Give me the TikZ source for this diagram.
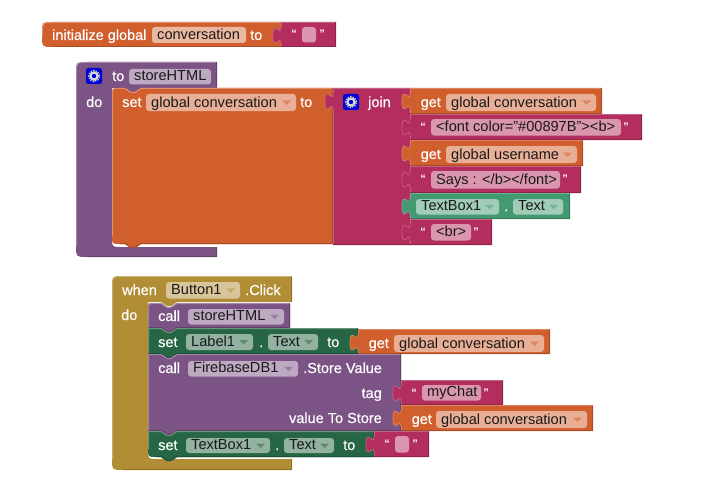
\documentclass[tikz,border=0pt]{standalone}
\usepackage{fontspec}
\setmainfont{Liberation Sans}
\newfontfamily\labfont[FakeBold=0.4]{Liberation Sans}
\definecolor{cOr}{HTML}{D05F2D}
\definecolor{cCr}{HTML}{B32D5E}
\definecolor{cPu}{HTML}{7C5385}
\definecolor{cDg}{HTML}{266644}
\definecolor{cLg}{HTML}{439970}
\definecolor{cGo}{HTML}{B18E35}
\newcounter{nn}
\tikzset{
  lighte/.style={line width=1pt,line join=round},
  darke/.style={line width=1pt,line join=round},
  lab/.style={text=white,anchor=base west,inner sep=0pt,font=\labfont\fontsize{14.5}{16}\selectfont},
  labr/.style={lab,anchor=base east},
  ftext/.style={text=black!90,anchor=base west,inner sep=0pt,font=\fontsize{14.6}{16}\selectfont},
  quot/.style={text=white,anchor=base,inner sep=0pt,font=\fontsize{11}{13}\bfseries\selectfont}
}
% statement block: col x1 y1 x2 y2 rtop rbot
\newcommand{\stmtblk}[7]{%
  \fill[#1] ({#2},{#3+#6}) .. controls ({#2},{#3}) .. ({#2+#6},{#3}) -- ({#2+13},{#3}) -- ({#2+19},{#3+4}) -- ({#2+23},{#3+4}) -- ({#2+29},{#3}) -- ({#4},{#3}) -- ({#4},{#5}) -- ({#2+29},{#5}) -- ({#2+23},{#5+4}) -- ({#2+19},{#5+4}) -- ({#2+13},{#5}) -- ({#2+#7},{#5}) .. controls ({#2},{#5}) .. ({#2},{#5-#7}) -- cycle;
  \draw[lighte,#1!70!white] ({#2+.5},{#5-#7}) -- ({#2+.5},{#3+#6}) .. controls ({#2+.5},{#3+.5}) .. ({#2+#6},{#3+.5}) -- ({#2+13},{#3+.5}) -- ({#2+19},{#3+4.5}) -- ({#2+23},{#3+4.5}) -- ({#2+29},{#3+.5}) -- ({#4-.5},{#3+.5});
  \draw[darke,#1!80!black] ({#4-.5},{#3+.5}) -- ({#4-.5},{#5-.5}) -- ({#2+29},{#5-.5}) -- ({#2+23},{#5+3.5}) -- ({#2+19},{#5+3.5}) -- ({#2+13},{#5-.5}) -- ({#2+#7},{#5-.5});
}
% value block: col x1 y1 x2 y2
\newcommand{\valblk}[5]{%
  \fill[#1] ({#2},{#3}) -- ({#4},{#3}) -- ({#4},{#5}) -- ({#2},{#5}) -- ({#2},{#3+22}) .. controls ({#2},{#3+10.7}) and ({#2-8},{#3+31}) .. ({#2-8},{#3+13.5}) .. controls ({#2-8},{#3-4}) and ({#2},{#3+16.3}) .. ({#2},{#3+5}) -- cycle;
  \draw[lighte,line width=.7pt,#1!75!white] ({#2+.5},{#5}) -- ({#2+.5},{#3+22}) ({#2},{#3+22}) .. controls ({#2},{#3+10.7}) and ({#2-8},{#3+31}) .. ({#2-8},{#3+13.5}) .. controls ({#2-8},{#3-4}) and ({#2},{#3+16.3}) .. ({#2},{#3+5}) ({#2+.5},{#3+5}) -- ({#2+.5},{#3+.5}) -- ({#4-.5},{#3+.5});
  \draw[darke,#1!80!black] ({#4-.5},{#3+.5}) -- ({#4-.5},{#5-.5}) -- ({#2},{#5-.5});
}
% C-shaped container: col x1 y1 x2 hdrbottom innerx bartop y2
\newcommand{\cblk}[8]{%
  \fill[#1] ({#2+11},{#3}) -- ({#4},{#3}) -- ({#4},{#5}) -- ({#6+29},{#5}) -- ({#6+23},{#5+4}) -- ({#6+19},{#5+4}) -- ({#6+13},{#5}) -- ({#6},{#5}) -- ({#6},{#7-9}) .. controls ({#6},{#7}) .. ({#6+9},{#7}) -- ({#4},{#7}) -- ({#4},{#8}) -- ({#2+11},{#8}) .. controls ({#2},{#8}) .. ({#2},{#8-11}) -- ({#2},{#3+11}) .. controls ({#2},{#3}) .. ({#2+11},{#3}) -- cycle;
  \draw[lighte,#1!70!white] ({#2+.5},{#8-11}) -- ({#2+.5},{#3+11}) .. controls ({#2+.5},{#3+.5}) .. ({#2+11},{#3+.5}) -- ({#4-.5},{#3+.5});
  \draw[darke,#1!80!black] ({#4-.5},{#3+.5}) -- ({#4-.5},{#5-.5});
  \draw[darke,#1!80!black] ({#4-.5},{#7}) -- ({#4-.5},{#8-.5}) -- ({#2+11},{#8-.5});
}
\newcommand{\lbl}[3]{\stepcounter{nn}\node[lab] (n\thenn) at (#1,#2) {#3};}
\newcommand{\lblr}[3]{\stepcounter{nn}\node[labr] (n\thenn) at (#1,#2) {#3};}
% plain field: col x1 y1 x2 y2 text
\newcommand{\plainf}[6]{%
  \fill[#1!50!white,rounded corners=3pt] (#2,#3) rectangle (#4,#5);
  \stepcounter{nn}\node[ftext] (n\thenn) at ({#2+5},{#5-4}) {#6};}
% dropdown field
\newcommand{\dropf}[6]{\plainf{#1}{#2}{#3}{#4}{#5}{#6}%
  \fill[#1!75!white] ({#4-14},{(#3+#5)/2-2}) -- ({#4-5},{(#3+#5)/2-2}) -- ({#4-9.5},{(#3+#5)/2+2.5}) -- cycle;}
% string: x1 y1 x2 y2 fieldx1 fieldx2 closeq text
\newcommand{\strv}[8]{\valblk{cCr}{#1}{#2}{#3}{#4}%
  \stepcounter{nn}\node[quot] (n\thenn) at ({#5-8},{#2+16}) {“};%
  \stepcounter{nn}\node[quot] (n\thenn) at ({#7+2},{#2+16}) {”};%
  \plainf{cCr}{#5}{#2+5}{#6}{#4-4.5}{#8}}
\newcommand{\gearicon}[2]{%
  \fill[blue!85!black,rounded corners=2.5pt] (#1,#2) rectangle ({#1+16},{#2+16});
  \draw[black!25,line width=2pt,dash pattern=on 1.4pt off 1.1pt] ({#1+8},{#2+8}) circle (5.2pt);
  \fill[white!85!black] ({#1+8},{#2+8}) circle (4.6pt);
  \fill[blue!85!black] ({#1+8},{#2+8}) circle (2.2pt);}
% get block: x1 y1 x2 y2 fieldx1 fieldx2 text
\newcommand{\getv}[7]{\valblk{cOr}{#1}{#2}{#3}{#4}%
  \lbl{#1+10.5}{#2+19}{get}%
  \dropf{cOr}{#5}{#2+6}{#6}{#2+23}{#7}}
\begin{document}
\begin{tikzpicture}[x=1pt,y=-1pt]
\useasboundingbox (0,0) rectangle (702,495);
% ---- initialize
\fill[cOr] (53,22) -- (281,22) -- (281,47) -- (53,47) .. controls (42,47) .. (42,36) -- (42,33) .. controls (42,22) .. (53,22) -- cycle;
\draw[lighte,cOr!70!white] (42.5,36) -- (42.5,33) .. controls (42.5,22.5) .. (53,22.5) -- (281,22.5);
\draw[darke,cOr!80!black] (53,46.5) -- (281,46.5);
\lbl{52}{40}{initialize global}
\fill[cOr!45!white,rounded corners=3pt] (152,27) rectangle (246,43);
\stepcounter{nn}\node[ftext] (n\thenn) at (157,40) {conversation};
\lbl{250}{40}{to}
\strv{281}{22}{336}{47}{302}{316}{320}{}
% ---- procedure
\cblk{cPu}{76}{62}{217}{88}{112}{247}{257}
\gearicon{86}{68}
\lbl{112}{81}{to}
\plainf{cPu}{129}{69}{211}{84.5}{storeHTML}
\lbl{86}{107}{do}
\stmtblk{cOr}{112}{88}{333}{244}{7}{8}
\lbl{122}{107}{set}
\dropf{cOr}{146}{94}{296}{111}{global conversation}
\lbl{300}{107}{to}
% join
\valblk{cCr}{333}{88}{411}{245}
\gearicon{343}{94}
\lbl{368}{107}{join}
\getv{410}{88}{602}{114}{446}{596}{global conversation}
\strv{410}{114}{642}{140}{431}{621}{624}{<font color="\#00897B"><b>}
\getv{410}{140}{583}{166}{446}{577}{global username}
\strv{410}{166}{581}{193}{431}{560}{563}{Says : </b></font>}
\valblk{cLg}{410}{193}{570}{219}
\dropf{cLg}{416}{199}{499}{214.5}{TextBox1}
\lbl{504}{211}{.}
\dropf{cLg}{513}{199}{563}{214.5}{Text}
\strv{410}{219}{492}{245}{431}{471}{474}{<br>}
% ---- when
\cblk{cGo}{112}{276}{292}{302}{148}{459}{470}
\lbl{122}{295}{when}
\dropf{cGo}{166}{282}{240}{298.5}{Button1}
\lbl{245}{295}{.Click}
\lbl{121}{320}{do}
\stmtblk{cPu}{148}{303}{290}{328}{6}{0}
\lbl{158}{321}{call}
\dropf{cPu}{188}{309}{284}{324.5}{storeHTML}
\stmtblk{cDg}{148}{328}{358}{354}{0}{0}
\lbl{158}{347}{set}
\dropf{cDg}{186}{334}{253}{350}{Label1}
\lbl{259}{347}{.}
\dropf{cDg}{268}{334}{318}{350}{Text}
\lbl{327}{347}{to}
\getv{358}{329}{550}{354}{394}{544}{global conversation}
\stmtblk{cPu}{148}{354}{401}{431}{0}{0}
\lbl{158}{373}{call}
\dropf{cPu}{188}{361}{298}{376.5}{FirebaseDB1}
\lbl{303}{373}{.Store Value}
\lblr{382}{398}{tag}
\lblr{382}{423}{value To Store}
\strv{401}{380}{503}{405}{422}{481}{484}{myChat}
\getv{401}{405}{593}{431}{436}{587}{global conversation}
\stmtblk{cDg}{148}{431}{374}{457}{0}{8}
\lbl{158}{450}{set}
\dropf{cDg}{186}{438}{270}{453}{TextBox1}
\lbl{275}{450}{.}
\dropf{cDg}{284}{438}{334}{453}{Text}
\lbl{343}{450}{to}
\strv{374}{431}{429}{457}{395}{409}{413}{}
\end{tikzpicture}
\end{document}
